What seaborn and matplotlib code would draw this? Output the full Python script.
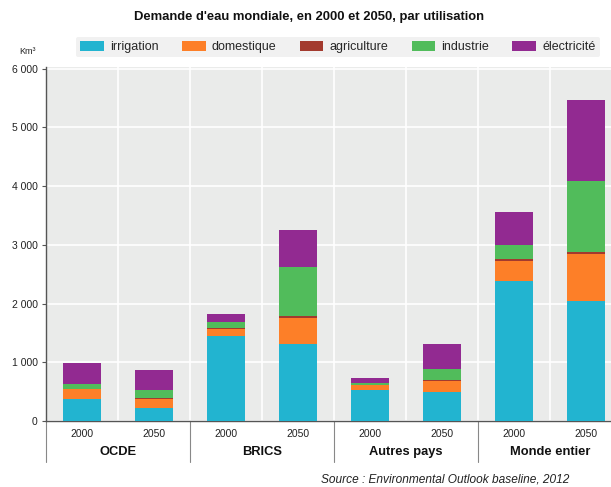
import matplotlib
matplotlib.use("Agg")
import matplotlib.pyplot as plt
import seaborn as sns
import pandas as pd
import numpy as np
from matplotlib.patches import Patch
from matplotlib.lines import Line2D
from matplotlib.ticker import FuncFormatter, FixedLocator

# ---------------- data ----------------
groups = ["OCDE", "BRICS", "Autres pays", "Monde entier"]
years = ["2000", "2050"]
series = ["irrigation", "domestique", "agriculture", "industrie", "électricité"]
irrigation = [380, 220, 1456, 1308, 525, 495, 2386, 2046]
domestique = [168, 163, 116, 442, 82, 182, 340, 799]
agriculture = [5, 5, 6, 34, 6, 18, 28, 34]
industrie = [82, 147, 116, 840, 37, 195, 244, 1201]
electricite = [345, 335, 131, 634, 85, 430, 562, 1384]
colors = ["#22b4d0", "#fd7f28", "#a33a2e", "#51bc5b", "#922a91"]
yticks = [0, 1000, 2000, 3000, 4000, 5000, 6000]

bars = [f"{g} {y}" for g in groups for y in years]
values = [irrigation, domestique, agriculture, industrie, electricite]
df = pd.DataFrame({"bar": bars})
cum = np.zeros(len(bars))
for name, v in zip(series, values):
    cum = cum + np.array(v)
    df[name] = cum

# ---------------- style ----------------
sns.set_theme(style="white")
plt.rcParams["font.family"] = ["Liberation Sans", "DejaVu Sans"]

fig = plt.figure(figsize=(6.11, 4.87), dpi=100)
W, H = 611, 487
ax_left, ax_right, ax_top, ax_bot = 46, 611, 67, 421
ax = fig.add_axes([ax_left / W, 1 - ax_bot / H, (ax_right - ax_left) / W, (ax_bot - ax_top) / H])
ax.set_facecolor("#eaebea")
ax.set_axisbelow(True)

for k in reversed(range(len(series))):
    sns.barplot(data=df, x="bar", y=series[k], order=bars, color=colors[k],
                saturation=1, width=0.54, linewidth=0, ax=ax, zorder=3)

ax.set_xlim(-0.5, -0.5 + (ax_right - ax_left) / 72.0)
ax.set_ylim(0, 6030)
ax.set_xlabel("")
ax.set_ylabel("")

ax.yaxis.set_major_locator(FixedLocator(yticks))
ax.yaxis.set_major_formatter(FuncFormatter(lambda v, p: f"{int(v):,}".replace(",", " ")))
ax.set_xticks(range(len(bars)))
ax.set_xticklabels([y for g in groups for y in years])
ax.set_xticks([i + 0.5 for i in range(len(bars) - 1)], minor=True)
ax.grid(axis="y", which="major", color="white", lw=1.2, zorder=0)
ax.grid(axis="x", which="minor", color="white", lw=1.2, zorder=0)
ax.grid(axis="x", which="major", visible=False)
ax.tick_params(axis="x", which="both", length=0, pad=6, labelsize=7.5, labelcolor="#222222")
ax.tick_params(axis="y", which="major", length=3, width=0.8, color="#555555", pad=3,
               labelsize=7.5, labelcolor="#222222", left=True)

for s in ["top", "right"]:
    ax.spines[s].set_visible(False)
for s in ["left", "bottom"]:
    ax.spines[s].set_color("#555555")
    ax.spines[s].set_linewidth(1.0)

# group separators and labels
trans = ax.get_xaxis_transform()
ax_h = ax_bot - ax_top
for i in range(len(groups)):
    xb = 2 * i - 0.5
    ax.add_line(Line2D([xb, xb], [0, -41 / ax_h], transform=trans, color="#888888",
                       lw=0.8, clip_on=False))
    ax.text(2 * i + 0.5, -31 / ax_h, groups[i], transform=trans, ha="center", va="center",
            fontsize=9.3, fontweight="bold", color="#111111")

# titles / notes
fig.text(0.505, 1 - 17 / H, "Demande d'eau mondiale, en 2000 et 2050, par utilisation",
         ha="center", va="center", fontsize=9.4, fontweight="bold", color="#111111")
fig.text(28 / W, 1 - 51 / H, "Km³", ha="center", va="center", fontsize=6.5, color="#222222")
fig.text(569 / W, 1 - 480 / H, "Source : Environmental Outlook baseline, 2012",
         ha="right", va="center", fontsize=8.6, style="italic", color="#222222")

handles = [Patch(facecolor=c, edgecolor="none") for c in colors]
leg = fig.legend(handles, series, loc="center", bbox_to_anchor=(0.553, 1 - 47 / H), ncol=5,
                 frameon=True, fontsize=9, handlelength=1.9, handleheight=0.8,
                 columnspacing=1.85, handletextpad=0.5, borderpad=0.35)
leg.get_frame().set_facecolor("#eeeeee")
leg.get_frame().set_edgecolor("none")

fig.savefig("out.png", dpi=100)
